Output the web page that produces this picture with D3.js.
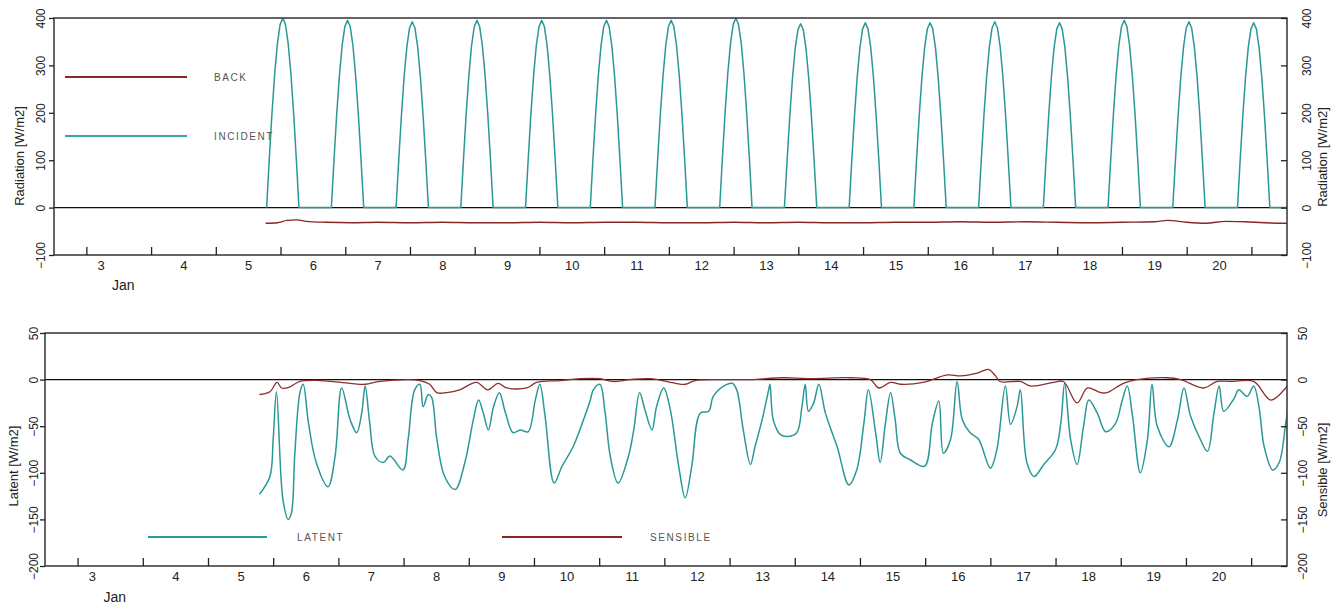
<!DOCTYPE html>
<html><head><meta charset="utf-8">
<script src="https://cdn.jsdelivr.net/npm/d3@7"></script>
<style>
body{margin:0;background:#fff}
svg{display:block}
text{font-family:"Liberation Sans",Arial,Helvetica,sans-serif}
</style>
</head><body>
<svg id="c" width="1335" height="606"></svg>
<script>
// ---------------- data ----------------
const xDomain = [2, 21.05];
const xTickDays = [2.5,3.5,4.5,5.5,6.5,7.5,8.5,9.5,10.5,11.5,12.5,13.5,14.5,15.5,16.5,17.5,18.5,19.5,20.5];
const xLabelDays = [2.72,4,5,6,7,8,9,10,11,12,13,14,15,16,17,18,19,20];
const xLabels = ["3","4","5","6","7","8","9","10","11","12","13","14","15","16","17","18","19","20"];
const monthLabel = "Jan";
const monthLabelDay = 3.07;

const radTicks = [-100, 0, 100, 200, 300, 400];
const fluxTicks = [-200, -150, -100, -50, 0, 50];

// incident radiation: hourly values from sunrise (day + 0.285)
const incidentDays = [5,6,7,8,9,10,11,12,13,14,15,16,17,18,19,20];
const incidentSunrise = 0.285;
const incidentHourly = [
  [0,104,200,283,346,386,400,386,346,283,200,104,0],
  [0,102,198,279,342,382,395,382,342,279,198,102,0],
  [0,101,196,277,339,379,392,379,339,277,196,101,0],
  [0,102,198,279,342,382,395,382,342,279,198,102,0],
  [0,102,198,279,342,382,395,382,342,279,198,102,0],
  [0,102,198,279,342,382,395,382,342,279,198,102,0],
  [0,102,198,279,342,382,395,382,342,279,198,102,0],
  [0,104,200,283,346,386,400,386,346,283,200,104,0],
  [0,100,194,274,336,375,388,375,336,274,194,100,0],
  [0,101,195,276,338,377,390,377,338,276,195,101,0],
  [0,101,195,276,338,377,390,377,338,276,195,101,0],
  [0,101,196,277,339,379,392,379,339,277,196,101,0],
  [0,101,195,276,338,377,390,377,338,276,195,101,0],
  [0,102,198,279,342,382,395,382,342,279,198,102,0],
  [0,101,196,277,339,379,392,379,339,277,196,101,0],
  [0,101,195,276,338,377,390,377,338,276,195,101,0]
];

const backSeries = [
  [5.27,-33],[5.45,-32],[5.6,-27],[5.75,-26],[5.9,-29],[6.2,-31],[6.6,-32],[7.0,-31],[7.5,-32],[8.0,-31],
  [8.5,-32],[9.0,-32],[9.5,-31],[10.0,-32],[10.5,-31],[11.0,-31],[11.5,-32],[12.0,-32],[12.5,-31],[13.0,-32],
  [13.5,-31],[14.0,-32],[14.5,-32],[15.0,-31],[15.5,-31],[16.0,-30],[16.5,-31],[17.0,-30],[17.5,-31],[18.0,-32],
  [18.5,-31],[19.0,-30],[19.2,-27],[19.5,-31],[19.8,-33],[20.1,-29],[20.4,-30],[20.7,-32],[21.05,-33]
];

const latentSeries = [
  [5.29,-123],[5.45,-104],[5.50,-64],[5.55,-13],[5.65,-129],[5.73,-150],[5.78,-143],[5.83,-82],[5.91,-14],[5.96,-5],
  [6.04,-46],[6.16,-89],[6.34,-115],[6.45,-82],[6.55,-9],[6.68,-43],[6.78,-57],[6.86,-35],[6.91,-7],[6.98,-46],
  [7.06,-82],[7.19,-89],[7.29,-82],[7.49,-97],[7.57,-64],[7.67,-11],[7.75,-5],[7.80,-29],[7.88,-16],[7.93,-19],
  [8.01,-64],[8.13,-104],[8.29,-118],[8.44,-89],[8.57,-43],[8.65,-22],[8.72,-35],[8.80,-54],[8.88,-29],[8.97,-14],
  [9.06,-35],[9.18,-57],[9.29,-54],[9.41,-56],[9.52,-22],[9.59,-5],[9.67,-39],[9.81,-111],[9.93,-93],[10.10,-72],
  [10.26,-43],[10.36,-23],[10.41,-11],[10.51,-5],[10.59,-35],[10.67,-82],[10.79,-111],[10.95,-82],[11.03,-54],[11.12,-14],
  [11.20,-32],[11.31,-54],[11.38,-29],[11.49,-9],[11.59,-32],[11.72,-93],[11.82,-127],[11.92,-93],[12.05,-36],[12.18,-34],
  [12.25,-18],[12.41,-7],[12.54,-4],[12.61,-11],[12.71,-54],[12.82,-91],[12.89,-72],[13.00,-43],[13.10,-11],[13.12,-5],
  [13.17,-43],[13.28,-59],[13.38,-61],[13.53,-57],[13.61,-29],[13.66,-5],[13.71,-34],[13.79,-25],[13.87,-5],[13.97,-36],
  [14.15,-72],[14.33,-113],[14.45,-97],[14.56,-47],[14.63,-11],[14.74,-57],[14.81,-89],[14.89,-47],[14.97,-14],[15.04,-43],
  [15.12,-79],[15.27,-86],[15.49,-93],[15.61,-47],[15.71,-23],[15.78,-79],[15.89,-64],[15.99,-2],[16.07,-43],[16.19,-57],
  [16.32,-64],[16.50,-95],[16.60,-75],[16.73,-7],[16.81,-48],[16.91,-29],[16.96,-11],[17.06,-89],[17.17,-104],[17.32,-91],
  [17.50,-75],[17.58,-47],[17.64,-4],[17.73,-64],[17.83,-91],[17.93,-50],[18.01,-22],[18.14,-36],[18.27,-56],[18.42,-47],
  [18.52,-23],[18.60,-7],[18.68,-39],[18.80,-100],[18.91,-64],[18.98,-5],[19.06,-50],[19.24,-72],[19.37,-43],[19.47,-9],
  [19.57,-39],[19.72,-64],[19.83,-77],[19.93,-36],[20.01,-7],[20.08,-34],[20.24,-20],[20.31,-11],[20.44,-18],[20.54,-7],
  [20.62,-29],[20.70,-72],[20.83,-97],[20.93,-89],[21.03,-47],[21.06,-34]
];

const sensibleSeries = [
  [5.29,-16],[5.45,-13],[5.56,-3],[5.63,-9],[5.75,-8],[5.91,-2],[6.22,-1],[6.68,-4],[6.91,-5],[7.14,-2],
  [7.75,-1],[7.90,-5],[8.01,-14],[8.16,-14],[8.36,-11],[8.62,-3],[8.79,-11],[8.95,-4],[9.08,-9],[9.39,-9],
  [9.54,-3],[9.90,-1],[10.21,1],[10.51,1],[10.71,-2],[10.97,0],[11.28,1],[11.67,-4],[11.82,-5],[11.97,-1],
  [12.36,0],[12.82,0],[13.32,2],[13.74,1],[14.35,2],[14.66,0],[14.79,-9],[14.97,-3],[15.12,-5],[15.47,-3],
  [15.84,5],[16.04,4],[16.30,7],[16.47,11],[16.58,4],[16.65,-2],[16.96,-2],[17.12,-7],[17.47,-3],[17.62,-2],
  [17.83,-25],[17.99,-9],[18.19,-14],[18.29,-14],[18.54,-4],[18.75,0],[19.21,2],[19.42,0],[19.77,-9],[19.98,-2],
  [20.19,-2],[20.54,-2],[20.80,-22],[21.03,-9],[21.06,-6]
];

// ---------------- drawing ----------------
const svg = d3.select("#c");
const TEAL = "#2b9797", RED = "#862626";

function panel(cfg) {
  const g = svg.append("g");
  const x = d3.scaleLinear().domain(xDomain).range([cfg.left, cfg.right]);
  const y = d3.scaleLinear().domain(cfg.yDomain).range([cfg.bottom, cfg.top]);
  const clipId = "clip" + cfg.id;
  svg.append("clipPath").attr("id", clipId).append("rect")
    .attr("x", cfg.left).attr("y", cfg.top)
    .attr("width", cfg.right - cfg.left).attr("height", cfg.bottom - cfg.top);

  // zero line
  g.append("line").attr("x1", cfg.left).attr("x2", cfg.right)
    .attr("y1", y(0)).attr("y2", y(0)).attr("stroke", "#111").attr("stroke-width", 1.3);

  const plot = g.append("g").attr("clip-path", `url(#${clipId})`);
  cfg.series.forEach(s => {
    const line = d3.line().x(d => x(d[0])).y(d => y(d[1])).curve(s.curve || d3.curveLinear);
    plot.append("path").datum(s.data).attr("d", line)
      .attr("fill", "none").attr("stroke", s.color).attr("stroke-width", s.width || 1.5)
      .attr("stroke-linejoin", "round");
  });

  // frame
  g.append("rect").attr("x", cfg.left).attr("y", cfg.top)
    .attr("width", cfg.right - cfg.left).attr("height", cfg.bottom - cfg.top)
    .attr("fill", "none").attr("stroke", "#333").attr("stroke-width", 1.5);

  // x tick marks (inward)
  const xt = g.append("g").attr("transform", `translate(0,${cfg.bottom})`)
    .call(d3.axisBottom(x).tickValues(xTickDays).tickSize(-8).tickFormat(""));
  xt.select(".domain").remove();
  xt.selectAll("line").attr("stroke", "#222").attr("stroke-width", 1.3);

  // x labels
  const xl = g.append("g").attr("transform", `translate(0,${cfg.bottom})`)
    .call(d3.axisBottom(x).tickValues(xLabelDays).tickSize(0).tickFormat((d, i) => xLabels[i]));
  xl.select(".domain").remove();
  xl.selectAll("text").attr("y", cfg.xLabelOffset).attr("dy", 0)
    .attr("font-size", 13).attr("fill", "#222").attr("font-family", null);

  g.append("text").attr("x", x(monthLabelDay)).attr("y", cfg.bottom + cfg.monthOffset)
    .attr("text-anchor", "middle").attr("font-size", 14).attr("fill", "#222").text(monthLabel);

  // left y axis
  const yl = g.append("g").attr("transform", `translate(${cfg.left},0)`)
    .call(d3.axisLeft(y).tickValues(cfg.ticks).tickSize(5));
  yl.select(".domain").remove();
  yl.selectAll("line").attr("stroke", "#222").attr("stroke-width", 1.3);
  yl.selectAll("text").attr("transform", "rotate(-90)").attr("x", 0).attr("y", cfg.leftLabelOffset)
    .attr("dy", 0).attr("text-anchor", "middle").attr("font-size", 12).attr("fill", "#222").attr("font-family", null);

  // right y axis
  const yr = g.append("g").attr("transform", `translate(${cfg.right},0)`)
    .call(d3.axisRight(y).tickValues(cfg.ticks).tickSize(-6));
  yr.select(".domain").remove();
  yr.selectAll("line").attr("stroke", "#222").attr("stroke-width", 1.3);
  yr.selectAll("text").attr("transform", "rotate(-90)").attr("x", 0).attr("y", cfg.rightLabelOffset)
    .attr("dy", 0).attr("text-anchor", "middle").attr("font-size", 12).attr("fill", "#222").attr("font-family", null);

  // axis titles
  g.append("text").attr("transform", `translate(${cfg.leftTitleX},${cfg.leftTitleY}) rotate(-90)`)
    .attr("text-anchor", "middle").attr("dy", "0.35em").attr("font-size", 13).attr("fill", "#222").text(cfg.leftTitle);
  g.append("text").attr("transform", `translate(${cfg.rightTitleX},${cfg.rightTitleY}) rotate(-90)`)
    .attr("text-anchor", "middle").attr("dy", "0.35em").attr("font-size", 13).attr("fill", "#222").text(cfg.rightTitle);

  // legend
  cfg.legend.forEach(l => {
    g.append("line").attr("x1", l.x1).attr("x2", l.x2).attr("y1", l.y).attr("y2", l.y)
      .attr("stroke", l.color).attr("stroke-width", 2);
    g.append("text").attr("x", l.tx).attr("y", l.y + 4).attr("font-size", 10)
      .attr("letter-spacing", "1.6px").attr("fill", "#555").text(l.label);
  });
}

// flatten incident series
const incidentSeries = [];
incidentDays.forEach((d, i) => {
  incidentHourly[i].forEach((v, h) => incidentSeries.push([d + incidentSunrise + h / 24, v]));
});
incidentSeries.push([xDomain[1], 0]);

panel({
  id: "top", left: 54, right: 1287, top: 18, bottom: 255, yDomain: [-100, 400], ticks: radTicks,
  xLabelOffset: 15, monthOffset: 35, leftLabelOffset: -9, rightLabelOffset: 24,
  leftTitle: "Radiation [W/m2]", leftTitleX: 19, leftTitleY: 156,
  rightTitle: "Radiation [W/m2]", rightTitleX: 1322, rightTitleY: 157,
  series: [
    {data: backSeries, color: RED, width: 1.4, curve: d3.curveMonotoneX},
    {data: incidentSeries, color: TEAL, width: 1.5}
  ],
  legend: [
    {x1: 65, x2: 187, y: 77, tx: 214, label: "BACK", color: RED},
    {x1: 65, x2: 187, y: 136, tx: 214, label: "INCIDENT", color: "#3aa3a3"}
  ]
});

panel({
  id: "bot", left: 45, right: 1287, top: 333, bottom: 566, yDomain: [-200, 50], ticks: fluxTicks,
  xLabelOffset: 15, monthOffset: 36, leftLabelOffset: -7, rightLabelOffset: 20,
  leftTitle: "Latent [W/m2]", leftTitleX: 13, leftTitleY: 466,
  rightTitle: "Sensible [W/m2]", rightTitleX: 1322, rightTitleY: 470,
  series: [
    {data: latentSeries, color: TEAL, width: 1.5, curve: d3.curveCatmullRom.alpha(0.5)},
    {data: sensibleSeries, color: "#8e2d2d", width: 1.3, curve: d3.curveCatmullRom.alpha(0.5)}
  ],
  legend: [
    {x1: 148, x2: 267, y: 537, tx: 297, label: "LATENT", color: TEAL},
    {x1: 502, x2: 622, y: 537, tx: 650, label: "SENSIBLE", color: RED}
  ]
});
</script>
</body></html>
